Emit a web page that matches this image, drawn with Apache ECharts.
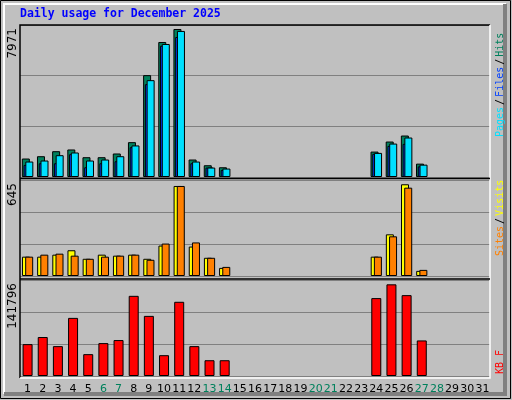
<!DOCTYPE html>
<html><head><meta charset="utf-8">
<script src="https://cdn.jsdelivr.net/npm/echarts@6/dist/echarts.min.js"></script>
<style>html,body{margin:0;padding:0;background:#c0c0c0}#c{width:512px;height:400px}</style>
</head><body><div id="c"></div>
<script>
const days = Array.from({length:31},(_,i)=>String(i+1));
const weekend = ['6','7','13','14','20','21','27','28'];
const hits  = [995,1120,1390,1482,1066,1066,1266,1877,5486,7271,7971,941,633,525,null,null,null,null,null,null,null,null,null,1369,1910,2234,720,null,null,null,null];
const files = [833,887,1174,1320,887,941,1120,1699,5215,7163,7866,833,509,455,null,null,null,null,null,null,null,null,null,1298,1800,2126,665,null,null,null,null];
const pages = [650,740,740,1228,525,740,849,1607,4999,7071,7541,740,509,379,null,null,null,null,null,null,null,null,null,1250,1677,1785,573,null,null,null,null];
const visits= [136,136,150,181,121,150,143,150,121,214,633,207,128,57,null,null,null,null,null,null,null,null,null,136,293,645,36,null,null,null,null];
const sites = [136,150,157,143,121,136,143,150,114,228,633,236,128,64,null,null,null,null,null,null,null,null,null,136,279,621,43,null,null,null,null];
const kbytes= [49300,60300,46200,89900,33800,50900,55600,124000,93000,32200,114800,46200,24400,24400,null,null,null,null,null,null,null,null,null,120500,141796,125100,55000,null,null,null,null];
const maxLabels = ['7971','645','141796'];

const L=20, R=22;
const grids=[{left:L,right:R,top:25,height:152},{left:L,right:R,top:180,height:96},{left:L,right:R,top:280,height:96}];
const maxes=[8186,675,148500];
const xAxes=grids.map((g,i)=>({type:'category',gridIndex:i,data:days,boundaryGap:true,
  axisLine:{show:false},axisTick:{show:false},
  axisLabel:i<2?{show:false}:{show:true,interval:0,hideOverlap:false,margin:8,fontFamily:'DejaVu Sans',fontSize:11,
    color:(v)=>weekend.includes(v)?'#00805c':'#000'}}));
const yAxes=grids.map((g,i)=>({type:'value',gridIndex:i,min:0,max:maxes[i],interval:maxes[i]/3,
  axisLabel:{show:false},axisLine:{show:false},axisTick:{show:false},
  splitLine:{show:true,lineStyle:{color:'#808080',width:1}}}));
const bs={borderColor:'#000',borderWidth:1};
const series=[
 {type:'bar',xAxisIndex:0,yAxisIndex:0,data:hits,barWidth:8,barGap:'-78%',itemStyle:{color:'#00805c',...bs}},
 {type:'bar',xAxisIndex:0,yAxisIndex:0,data:pages,barWidth:8,barGap:'-78%',itemStyle:{color:'#0040ff',...bs}},
 {type:'bar',xAxisIndex:0,yAxisIndex:0,data:files,barWidth:8,barGap:'-78%',itemStyle:{color:'#00e0ff',...bs}},
 {type:'bar',xAxisIndex:1,yAxisIndex:1,data:visits,barWidth:8,barGap:'-60%',itemStyle:{color:'#ffff00',...bs}},
 {type:'bar',xAxisIndex:1,yAxisIndex:1,data:sites,barWidth:8,barGap:'-60%',itemStyle:{color:'#ff8000',...bs}},
 {type:'bar',xAxisIndex:2,yAxisIndex:2,data:kbytes,barWidth:10,itemStyle:{color:'#ff0000',...bs}}
];
const F='10px "DejaVu Sans Mono"';
const graphic=[
 {type:'rect',shape:{x:0.5,y:0.5,width:510,height:398},style:{fill:null,stroke:'#000',lineWidth:1},z:-1},
 {type:'rect',shape:{x:4,y:4,width:501,height:389},style:{fill:null,stroke:'#fff',lineWidth:2},z:-1},
 {type:'polyline',shape:{points:[[505,4],[505,394],[4,394]]},style:{fill:null,stroke:'#808080',lineWidth:4},z:-1},
 {type:'polyline',shape:{points:[[20,378],[20,25],[490,25]]},style:{fill:null,stroke:'#000',lineWidth:1.5},z:10},
 {type:'polyline',shape:{points:[[490,25],[490,378],[20,378]]},style:{fill:null,stroke:'#fff',lineWidth:1.5},z:10},
 {type:'line',shape:{x1:20,y1:178.5,x2:490,y2:178.5},style:{stroke:'#000',lineWidth:1.5},z:10},
 {type:'line',shape:{x1:20,y1:279,x2:490,y2:279},style:{stroke:'#000',lineWidth:1.5},z:10},
 {type:'text',left:20,top:8,style:{text:'Daily usage for December 2025',font:'bold 11.5px "DejaVu Sans Mono"',fill:'#0000ff'}},
 {type:'text',x:7,y:28,rotation:Math.PI/2,style:{text:maxLabels[0],font:'12px "DejaVu Sans"',fill:'#000',align:'right',verticalAlign:'top'}},
 {type:'text',x:7,y:183,rotation:Math.PI/2,style:{text:maxLabels[1],font:'12px "DejaVu Sans"',fill:'#000',align:'right',verticalAlign:'top'}},
 {type:'text',x:7,y:283,rotation:Math.PI/2,style:{text:maxLabels[2],font:'12px "DejaVu Sans"',fill:'#000',align:'right',verticalAlign:'top'}},
 {type:'text',x:495,y:137,rotation:Math.PI/2,style:{text:'{a|Pages}{k|/}{b|Files}{k|/}{c|Hits}',font:F,align:'left',verticalAlign:'top',
   rich:{a:{fill:'#00e0ff',font:F},b:{fill:'#0040ff',font:F},c:{fill:'#00805c',font:F},k:{fill:'#000',font:F,padding:[0,2]}}}},
 {type:'text',x:495,y:256,rotation:Math.PI/2,style:{text:'{a|Sites}{k|/}{b|Visits}',font:F,align:'left',verticalAlign:'top',
   rich:{a:{fill:'#ff8000',font:F},b:{fill:'#ffff00',font:F},k:{fill:'#000',font:F,padding:[0,2]}}}},
 {type:'text',x:495,y:374,rotation:Math.PI/2,style:{text:'KB F',font:F,fill:'#ff0000',align:'left',verticalAlign:'top'}}
];
const chart=echarts.init(document.getElementById('c'),null,{renderer:'canvas'});
chart.setOption({animation:false,backgroundColor:'#c0c0c0',grid:grids,xAxis:xAxes,yAxis:yAxes,series,graphic});
</script></body></html>
